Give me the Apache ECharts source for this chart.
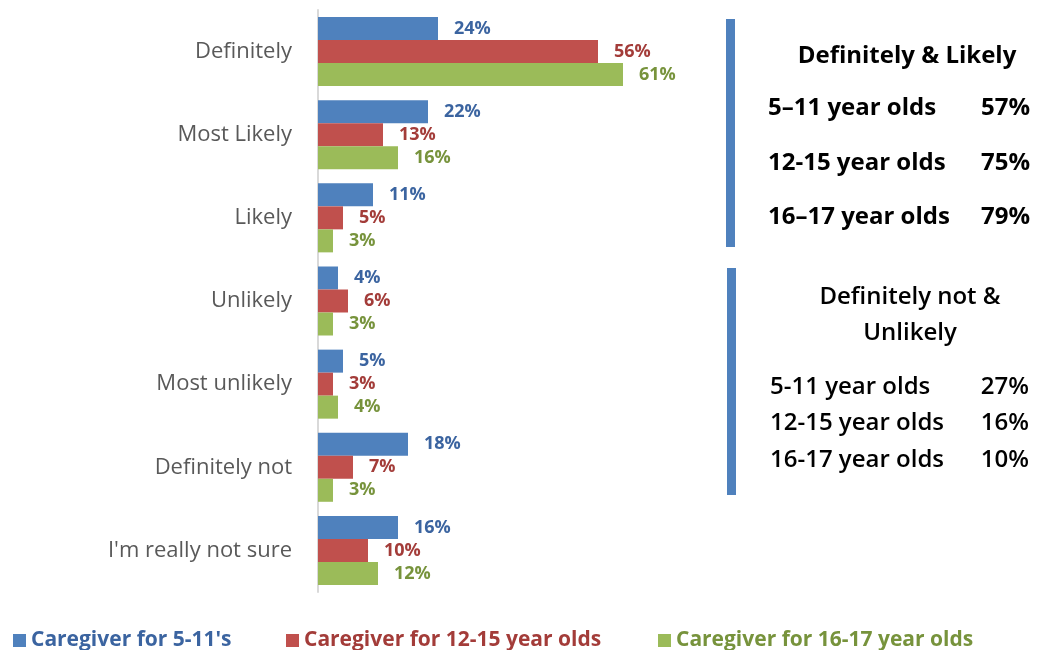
<!DOCTYPE html>
<html>
<head>
<meta charset="utf-8">
<script src="https://cdn.jsdelivr.net/npm/echarts@6/dist/echarts.min.js"></script>
<style>
  html, body { margin: 0; padding: 0; background: #fff; }
  #chart { width: 1037px; height: 650px; }
</style>
</head>
<body>
<div id="chart"></div>
<script>
var categories = ['Definitely', 'Most Likely', 'Likely', 'Unlikely', 'Most unlikely', 'Definitely not', "I'm really not sure"];
var seriesNames = ["Caregiver for 5-11's", 'Caregiver for 12-15 year olds', 'Caregiver for 16-17 year olds'];
var age5to11 = [24, 22, 11, 4, 5, 18, 16];
var age12to15 = [56, 13, 5, 6, 3, 7, 10];
var age16to17 = [61, 16, 3, 3, 4, 3, 12];

var likelyTitle = 'Definitely & Likely';
var likelyRows = [['5–11 year olds', '57%'], ['12-15 year olds', '75%'], ['16–17 year olds', '79%']];
var unlikelyTitle = ['Definitely not &', 'Unlikely'];
var unlikelyRows = [['5-11 year olds', '27%'], ['12-15 year olds', '16%'], ['16-17 year olds', '10%']];

var chart = echarts.init(document.getElementById('chart'));

const colorList = ['#4F81BD', '#C0504D', '#9BBB59'];
const labelColors = ['#3B64A0', '#A33C39', '#77933C'];
const font = '"Open Sans", "Liberation Sans", sans-serif';

function makeSeries(i, data) {
	return {
		name: seriesNames[i],
		type: 'bar',
		data: data,
		barGap: '0%',
		barCategoryGap: '17%',
		itemStyle: { color: colorList[i] },
		label: {
			show: true,
			position: 'right',
			distance: 16,
			formatter: '{c}%',
			color: labelColors[i],
			fontWeight: 'bold',
			fontSize: 18,
			fontFamily: font
		}
	};
}

// right side text panel
var graphics = [
	{ type: 'rect', shape: { x: 726, y: 19, width: 9, height: 228 }, style: { fill: '#4F81BD' } },
	{ type: 'rect', shape: { x: 727, y: 268, width: 9, height: 227 }, style: { fill: '#4F81BD' } },
	{ type: 'text', x: 907, y: 56, style: { text: likelyTitle, fill: '#000', font: 'bold 24px ' + font, align: 'center', verticalAlign: 'middle' } }
];
var likelyY = [108, 163, 217];
likelyRows.forEach(function(r, i) {
	graphics.push({ type: 'text', x: 768, y: likelyY[i], style: { text: r[0], fill: '#000', font: 'bold 24px ' + font, align: 'left', verticalAlign: 'middle' } });
	graphics.push({ type: 'text', x: 1030, y: likelyY[i], style: { text: r[1], fill: '#000', font: 'bold 24px ' + font, align: 'right', verticalAlign: 'middle' } });
});
[297, 333].forEach(function(y, i) {
	graphics.push({ type: 'text', x: 910, y: y, style: { text: unlikelyTitle[i], fill: '#000', font: '600 24px ' + font, align: 'center', verticalAlign: 'middle' } });
});
var unlikelyY = [387, 423, 460];
unlikelyRows.forEach(function(r, i) {
	graphics.push({ type: 'text', x: 770, y: unlikelyY[i], style: { text: r[0], fill: '#000', font: '600 24px ' + font, align: 'left', verticalAlign: 'middle' } });
	graphics.push({ type: 'text', x: 1029, y: unlikelyY[i], style: { text: r[1], fill: '#000', font: '600 24px ' + font, align: 'right', verticalAlign: 'middle' } });
});

// one legend per series so each sits where it does in the reference
var legendLeft = [8, 281, 653];
var legends = seriesNames.map(function(n, i) {
	return {
		data: [{ name: n, textStyle: { color: labelColors[i] } }],
		left: legendLeft[i],
		top: 625,
		icon: 'rect',
		itemWidth: 13,
		itemHeight: 13,
		textStyle: {
			fontSize: 21,
			fontWeight: 'bold',
			fontFamily: font
		}
	};
});

option = {
	backgroundColor: '#fff',
	animation: false,
	color: colorList,
	grid: {
		left: 318,
		top: 10,
		width: 400,
		height: 582
	},
	legend: legends,
	xAxis: {
		type: 'value',
		min: 0,
		max: 80,
		show: false
	},
	yAxis: {
		type: 'category',
		data: categories,
		inverse: true,
		axisTick: { show: false },
		axisLine: { show: true, lineStyle: { color: '#D9D9D9', width: 2 } },
		axisLabel: {
			margin: 26,
			color: '#595959',
			fontSize: 22,
			fontFamily: font
		}
	},
	graphic: graphics,
	series: [
		makeSeries(0, age5to11),
		makeSeries(1, age12to15),
		makeSeries(2, age16to17)
	]
};

chart.setOption(option);

window.onresize = function() {
	chart.resize();
};
</script>
</body>
</html>
